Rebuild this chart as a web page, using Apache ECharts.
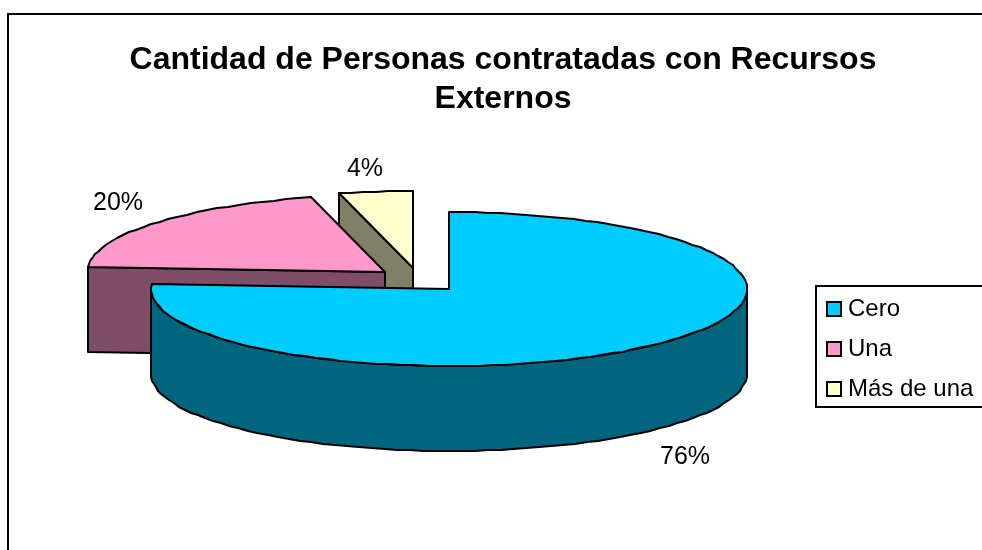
<!DOCTYPE html>
<html>
<head>
<meta charset="utf-8">
<style>html,body{margin:0;padding:0;background:#fff;overflow:hidden}#c{width:982px;height:550px}</style>
<script src="https://cdn.jsdelivr.net/npm/echarts@6/dist/echarts.min.js"></script>
</head>
<body>
<div id="c"></div>
<script>
// Data
const categories = ['Cero', 'Una', 'Más de una'];
const percentages = [76, 20, 4];
const titleText = 'Cantidad de Personas contratadas con Recursos\nExternos';

// Styles and layout of the drawing
const topColors = ['#00CCFF', '#FF99CC', '#FFFFCC'];
const sideColors = ['#006680', '#804D66', '#808066'];
const centers = [[449, 289], [385, 272], [413, 268]];
const labelOffsets = [[32, 112], [-37, -20], [-11, -23]];
const RX = 298, RY = 77, DEPTH = 85;
const FONT = '"Liberation Sans", Arial, sans-serif';

const total = percentages.reduce((a, b) => a + b, 0);

function pt(c, deg, dy) {
  const r = deg * Math.PI / 180;
  return [Math.round(c[0] + RX * Math.sin(r)), Math.round(c[1] - RY * Math.cos(r) + (dy || 0))];
}
function arc(c, a0, a1, dy) {
  const pts = [];
  const n = Math.max(1, Math.ceil(Math.abs(a1 - a0) / 2.5));
  for (let i = 0; i <= n; i++) pts.push(pt(c, a0 + (a1 - a0) * i / n, dy));
  return pts;
}
const lineStyle = { stroke: '#000', lineWidth: 2, lineJoin: 'round' };

function renderSlice(idx) {
  return function (params, api) {
    const value = api.value(0);
    const before = percentages.slice(0, idx).reduce((a, b) => a + b, 0);
    const a0 = before / total * 360;
    const a1 = a0 + value / total * 360;
    const c = centers[idx];
    const children = [];
    const poly = (points, fill) => children.push({
      type: 'polygon', shape: { points },
      style: Object.assign({ fill }, lineStyle)
    });
    // Outer wall: only the front half of the rim faces the viewer
    const w0 = Math.max(a0, 90), w1 = Math.min(a1, 270);
    if (w1 > w0) {
      poly(arc(c, w0, w1, 0).concat(arc(c, w1, w0, DEPTH)), sideColors[idx]);
    }
    // Radial cut face at the start of the slice
    if (a0 > 180 && a0 < 360) {
      const e = pt(c, a0, 0);
      poly([e, [c[0], c[1]], [c[0], c[1] + DEPTH], [e[0], e[1] + DEPTH]], sideColors[idx]);
    }
    // Top face
    poly([[c[0], c[1]]].concat(arc(c, a0, a1, 0)), topColors[idx]);
    // Percentage label
    const mid = (a0 + a1) / 2;
    const m = pt(c, mid, 0);
    children.push({
      type: 'text',
      style: {
        x: m[0] + labelOffsets[idx][0], y: m[1] + labelOffsets[idx][1],
        text: Math.round(value / total * 100) + '%',
        fill: '#000', font: '25px ' + FONT, textAlign: 'center', textVerticalAlign: 'middle'
      }
    });
    return { type: 'group', children };
  };
}

const chart = echarts.init(document.getElementById('c'), null, { renderer: 'canvas' });
chart.setOption({
  animation: false,
  backgroundColor: '#fff',
  title: {
    text: titleText, left: 498, top: 36, textAlign: 'center',
    textStyle: { fontFamily: FONT, fontWeight: 'bold', fontSize: 32, lineHeight: 39, color: '#000' }
  },
  legend: {
    orient: 'vertical', left: 816, top: 286,
    data: categories.map((name, i) => ({ name, icon: 'rect', itemStyle: { color: topColors[i], borderColor: '#000', borderWidth: 2 } })),
    itemWidth: 14, itemHeight: 14, itemGap: 16,
    padding: [11, 30, 6, 10],
    borderColor: '#000', borderWidth: 2, backgroundColor: '#fff',
    selectedMode: false,
    textStyle: { fontFamily: FONT, fontSize: 24, color: '#000', lineHeight: 24, padding: [0, 0, 0, 2] }
  },
  graphic: [{
    type: 'rect', z: -1,
    shape: { x: 8, y: 14, width: 1000, height: 560 },
    style: { fill: 'none', stroke: '#000', lineWidth: 2 }
  }],
  series: categories.map((name, i) => ({
    type: 'custom', name, coordinateSystem: 'none',
    z: 5 - i, silent: true,
    itemStyle: { color: topColors[i] },
    data: [[percentages[i]]],
    renderItem: renderSlice(i)
  }))
});
</script>
</body>
</html>
